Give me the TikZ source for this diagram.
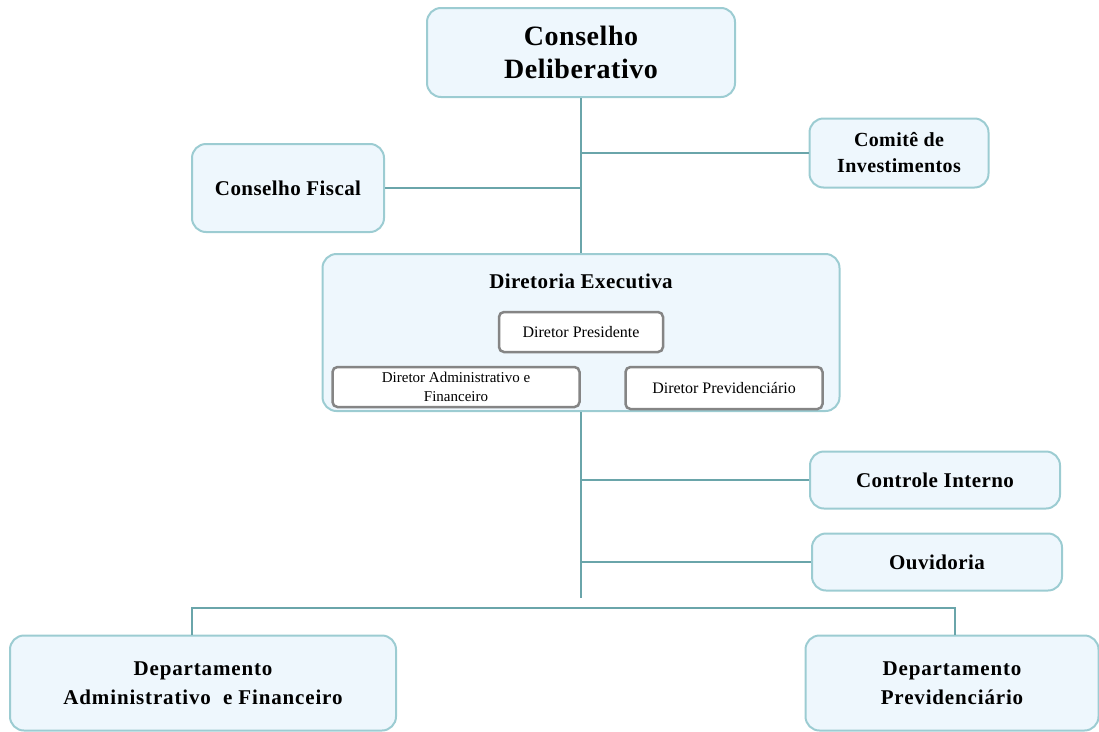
\documentclass[tikz,border=0pt]{standalone}
\usepackage{fontspec}
\setmainfont{Liberation Serif}
\definecolor{boxfill}{HTML}{EEF7FD}
\definecolor{boxedge}{HTML}{9CCCD2}
\definecolor{linkcol}{HTML}{6AA5AA}
\definecolor{inneredge}{HTML}{858585}
\tikzset{
  bigbox/.style={draw=boxedge, fill=boxfill, line width=2pt, rounded corners=14pt, inner sep=0pt, align=center, font=\bfseries\fontsize{21}{26}\selectfont\addfontfeature{LetterSpace=2}},
  innerbox/.style={draw=inneredge, fill=white, line width=2.5pt, rounded corners=5pt, inner sep=0pt, align=center, font=\fontsize{15}{19}\selectfont},
  link/.style={draw=linkcol, line width=1.8pt},
}
\begin{document}
\begin{tikzpicture}[x=1pt,y=-1pt]
\useasboundingbox (0,0) rectangle (1099,731);
% top
\node[bigbox, minimum width=308pt, minimum height=89pt, font=\bfseries\fontsize{28}{33}\selectfont\addfontfeature{LetterSpace=2}] (cd) at (581,52.5) {Conselho\\Deliberativo};
\node[bigbox, minimum width=179pt, minimum height=69pt, font=\bfseries\fontsize{20}{26}\selectfont\addfontfeature{LetterSpace=2}] (ci) at (899,153) {Comitê de\\Investimentos};
\node[bigbox, minimum width=192pt, minimum height=88pt] (cf) at (288,188) {Conselho Fiscal};
% diretoria
\node[bigbox, minimum width=517pt, minimum height=157pt] (de) at (581,332.5) {};
\node[font=\bfseries\fontsize{21}{26}\selectfont\addfontfeature{LetterSpace=2}, inner sep=0pt] (det) at (581,281) {Diretoria Executiva};
\node[innerbox, minimum width=164pt, minimum height=40pt, font=\fontsize{16}{19}\selectfont] (dp) at (581,332) {Diretor Presidente};
\node[innerbox, minimum width=247pt, minimum height=40pt] (da) at (456,387) {Diretor Administrativo e\\Financeiro};
\node[innerbox, minimum width=197pt, minimum height=42pt, font=\fontsize{16}{19}\selectfont] (dv) at (724,388) {Diretor Previdenciário};
% lower
\node[bigbox, minimum width=250pt, minimum height=57pt] (ctl) at (935,480) {Controle Interno};
\node[bigbox, minimum width=250pt, minimum height=57pt] (ouv) at (937,562) {Ouvidoria};
\node[bigbox, minimum width=386pt, minimum height=95pt, font=\bfseries\fontsize{21}{29}\selectfont\addfontfeature{LetterSpace=4}] (dad) at (203,683) {Departamento\\Administrativo\ \ e Financeiro};
\node[bigbox, minimum width=293pt, minimum height=95pt, font=\bfseries\fontsize{21}{29}\selectfont\addfontfeature{LetterSpace=4}] (dpv) at (952,683) {Departamento\\Previdenciário};
% connectors
\coordinate (low) at (581,598);
\coordinate (hl) at (192,608);
\coordinate (hr) at (955,608);
\path[link] (cd.south -| de.north) -- (de.north);
\path[link] (ci.west) -- (ci.west -| de.north);
\path[link] (cf.east) -- (cf.east -| de.north);
\path[link] (de.south) -- (low);
\path[link] (ctl.west) -- (ctl.west -| low);
\path[link] (ouv.west) -- (ouv.west -| low);
\path[link] (dad.north -| hl) -- (hl) -- (hr) -- (dpv.north -| hr);
\end{tikzpicture}
\end{document}
